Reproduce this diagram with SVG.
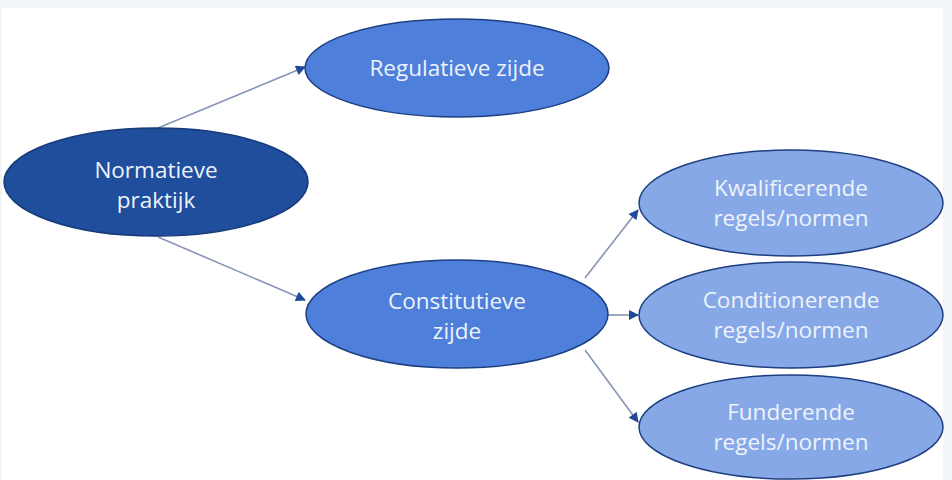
<svg xmlns="http://www.w3.org/2000/svg" width="952" height="480" viewBox="0 0 952 480">
  <defs>
    <marker id="arrow" viewBox="0 0 10 10" refX="9" refY="5" markerWidth="11" markerHeight="10" markerUnits="userSpaceOnUse" orient="auto">
      <path d="M0,0 L10,5 L0,10 Z" fill="#1f4a9a"/>
    </marker>
    <style>
      .lbl { font-family: "Open Sans", "Liberation Sans", sans-serif; font-size: 22.5px; fill: #eef3fb; text-anchor: middle; }
      .edge { stroke: #8594b4; stroke-width: 1.6; fill: none; marker-end: url(#arrow); }
      .dark { fill: #1f4e9c; stroke: #173a78; stroke-width: 1.5; }
      .mid { fill: #4d7fdb; stroke: #1d3f82; stroke-width: 1.5; }
      .light { fill: #86a8e6; stroke: #1d3f82; stroke-width: 1.5; }
    </style>
  </defs>

  <!-- page background -->
  <rect x="0" y="0" width="952" height="480" fill="#f2f6f8"/>
  <rect x="2" y="8" width="941" height="472" fill="#ffffff"/>

  <!-- connectors -->
  <g id="connectors">
    <line class="edge" x1="158" y1="128" x2="305" y2="67"/>
    <line class="edge" x1="158" y1="237" x2="305" y2="300"/>
    <line class="edge" x1="585" y1="278" x2="638" y2="210"/>
    <line class="edge" x1="608" y1="315" x2="638" y2="315"/>
    <line class="edge" x1="585" y1="350" x2="638" y2="422"/>
  </g>

  <g id="normatieve-praktijk">
    <ellipse class="dark" cx="156" cy="182" rx="152" ry="54"/>
    <text class="lbl" x="156" y="178">Normatieve</text>
    <text class="lbl" x="156" y="208">praktijk</text>
  </g>

  <g id="regulatieve-zijde">
    <ellipse class="mid" cx="457" cy="68" rx="152" ry="49"/>
    <text class="lbl" x="457" y="76">Regulatieve zijde</text>
  </g>

  <g id="constitutieve-zijde">
    <ellipse class="mid" cx="457" cy="314" rx="151" ry="54"/>
    <text class="lbl" x="457" y="309">Constitutieve</text>
    <text class="lbl" x="457" y="339">zijde</text>
  </g>

  <g id="kwalificerende">
    <ellipse class="light" cx="791" cy="203" rx="152" ry="53"/>
    <text class="lbl" x="791" y="196">Kwalificerende</text>
    <text class="lbl" x="791" y="226">regels/normen</text>
  </g>

  <g id="conditionerende">
    <ellipse class="light" cx="791" cy="315" rx="152" ry="53"/>
    <text class="lbl" x="791" y="308">Conditionerende</text>
    <text class="lbl" x="791" y="338">regels/normen</text>
  </g>

  <g id="funderende">
    <ellipse class="light" cx="791" cy="427" rx="152" ry="52"/>
    <text class="lbl" x="791" y="420">Funderende</text>
    <text class="lbl" x="791" y="450">regels/normen</text>
  </g>

  <!-- right margin strip over node edges -->
  <rect x="944" y="0" width="8" height="480" fill="#f2f6f8"/>
</svg>
